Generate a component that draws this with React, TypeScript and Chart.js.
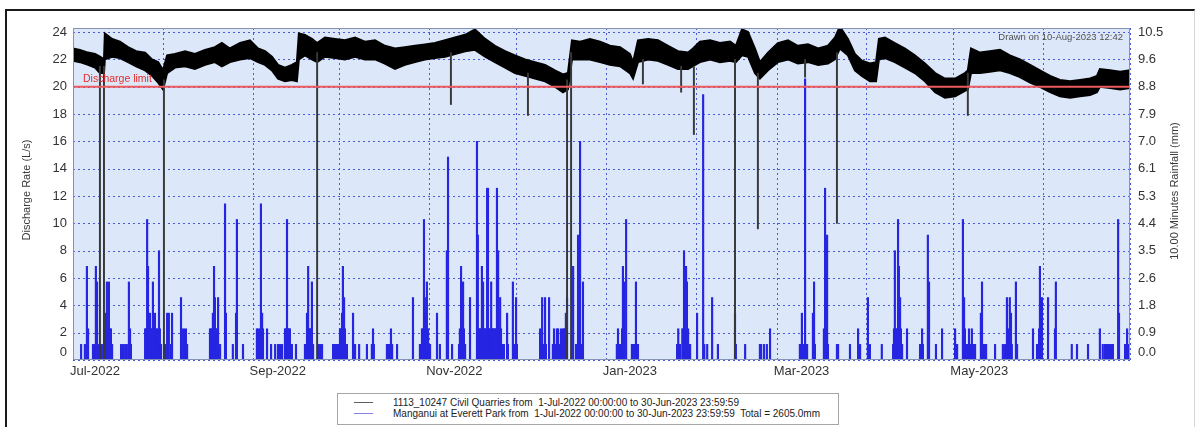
import React, { useEffect, useRef } from "react";
import { Chart, registerables } from "chart.js";

Chart.register(...registerables);

const FONT = '"Liberation Sans", Arial, sans-serif';

// ---- axes ----
const monthTickDays = [0, 31, 62, 92, 123, 153, 184, 215, 243, 274, 304, 335, 365];
const monthTickLabels = ["Jul-2022", "", "Sep-2022", "", "Nov-2022", "", "Jan-2023", "", "Mar-2023", "", "May-2023", "", ""];
const leftTickValues = [0, 2, 4, 6, 8, 10, 12, 14, 16, 18, 20, 22, 24];
const leftTickLabels = ["0", "2", "4", "6", "8", "10", "12", "14", "16", "18", "20", "22", "24"];
const rightTickValues = [0, 0.875, 1.75, 2.625, 3.5, 4.375, 5.25, 6.125, 7, 7.875, 8.75, 9.625, 10.5];
const rightTickLabels = ["0.0", "0.9", "1.8", "2.6", "3.5", "4.4", "5.3", "6.1", "7.0", "7.9", "8.8", "9.6", "10.5"];
const leftMax = 24.3;
const rightMax = 10.63;
const dischargeLimit = 20;

// ---- discharge envelope [day since 1-Jul-2022, high L/s, low L/s] ----
const dischargeBand2022: [number, number, number][] = [
  [0, 22.8, 21.9], [2.4, 22.7, 21.8], [5.2, 22.5, 21.6], [7.6, 22.4, 21.4], [9.3, 22.2, 21.0],
  [10.7, 22.0, 21.0], [11.0, 23.9, 22.0], [13.5, 23.5, 22.2], [16.2, 23.3, 22.1], [19.0, 22.9, 21.8],
  [21.8, 22.6, 21.5], [24.9, 22.5, 21.2], [27.3, 22.0, 20.8], [29.4, 21.8, 20.3], [31.1, 21.2, 19.8],
  [32.5, 22.3, 21.0], [35.2, 22.4, 21.4], [38.7, 22.6, 21.5], [42.1, 22.4, 21.3], [45.6, 22.7, 21.6],
  [49.0, 22.9, 21.8], [51.4, 23.2, 21.5], [54.2, 22.8, 21.8], [57.7, 23.2, 22.0], [61.1, 23.4, 22.1],
  [63.9, 22.8, 21.8], [66.3, 22.6, 21.6], [68.7, 22.2, 21.2], [70.8, 21.6, 20.6], [73.2, 21.4, 20.4],
  [75.6, 21.6, 20.5], [77.3, 21.8, 20.4], [78.0, 23.9, 22.0], [80.1, 23.8, 22.3], [82.5, 23.5, 22.0],
  [84.3, 23.2, 21.8], [87.0, 23.6, 22.2], [90.5, 23.5, 22.1], [93.9, 23.4, 22.0], [97.4, 23.6, 22.2],
  [100.8, 23.3, 22.0], [104.3, 23.4, 22.0], [107.7, 23.0, 21.7], [111.2, 22.8, 21.3], [114.6, 22.9, 21.6],
  [118.1, 23.0, 21.8], [121.5, 23.1, 22.0], [125.0, 23.2, 22.1], [128.5, 23.4, 22.2], [131.9, 23.6, 22.4],
  [135.4, 23.8, 22.6], [138.8, 24.2, 22.7], [142.3, 23.5, 22.2], [145.7, 23.0, 21.8], [149.2, 22.6, 21.4],
  [152.6, 22.3, 21.0], [156.1, 22.0, 20.8], [159.5, 21.8, 20.6], [163.0, 21.6, 20.4], [166.4, 21.2, 20.0],
  [169.2, 20.9, 19.6], [170.9, 21.0, 19.8], [172.3, 23.4, 22.0], [175.1, 23.3, 22.0], [178.5, 23.5, 22.0],
  [182.0, 23.3, 21.8],
];
const dischargeBand2023: [number, number, number][] = [
  [185.4, 23.0, 21.6], [188.9, 22.9, 21.5], [192.3, 22.4, 21.0], [193.4, 21.8, 20.6], [195.1, 23.4, 21.8],
  [198.6, 23.5, 22.0], [202.0, 23.4, 21.9], [205.5, 23.0, 21.6], [208.9, 22.6, 21.3], [212.4, 22.5, 21.3],
  [214.1, 22.8, 21.5], [216.5, 23.3, 21.8], [220.0, 23.4, 22.0], [223.4, 23.2, 21.8], [226.9, 23.3, 21.9],
  [228.9, 23.0, 21.8], [231.0, 24.2, 22.3], [233.1, 24.0, 22.2], [235.5, 22.8, 21.0], [237.2, 21.8, 20.6],
  [240.0, 22.5, 21.2], [243.4, 23.2, 21.8], [246.9, 23.4, 22.0], [250.3, 23.0, 21.7], [253.8, 23.1, 21.8],
  [257.3, 22.8, 21.6], [260.7, 23.0, 21.7], [263.1, 23.6, 22.0], [264.8, 24.4, 22.8], [267.6, 23.5, 22.3],
  [270.0, 22.4, 21.2], [272.4, 21.9, 20.8], [275.2, 21.7, 20.4], [277.3, 21.8, 20.4], [278.3, 23.5, 22.0],
  [280.4, 23.6, 22.1], [283.8, 23.2, 21.8], [287.3, 22.8, 21.4], [290.7, 22.3, 21.0], [294.2, 21.7, 20.4],
  [297.7, 21.0, 19.6], [301.1, 20.6, 19.2], [304.6, 20.6, 19.3], [308.0, 21.0, 19.7], [309.0, 21.2, 19.8],
  [310.1, 22.8, 21.0], [313.2, 22.5, 21.0], [316.6, 22.6, 21.1], [320.1, 22.7, 21.2], [323.5, 22.3, 21.0],
  [327.0, 22.0, 20.7], [330.5, 21.6, 20.3], [333.9, 21.2, 20.0], [337.4, 20.8, 19.6], [340.8, 20.5, 19.3],
  [344.3, 20.4, 19.2], [347.7, 20.5, 19.3], [351.2, 20.6, 19.4], [353.6, 20.8, 19.6], [354.6, 21.3, 20.0],
  [358.1, 21.2, 19.9], [361.6, 21.1, 19.8], [365, 21.2, 19.9],
];
// discharge drop-outs [day, low, high]
const dischargeDropouts: [number, number, number][] = [
  [9.3, 0, 21.5], [10.7, 0, 21.5], [31.4, 0, 20.5], [84.3, 0, 22.5], [130.5, 18.7, 22.5],
  [157.1, 17.9, 21.0], [170.6, 0, 20.5], [172.0, 0, 22.5], [196.8, 20.2, 22.0], [210.0, 19.6, 21.5],
  [214.4, 16.5, 21.5], [228.6, 0, 22.0], [236.5, 9.6, 21.0], [252.8, 20.7, 22.0], [263.8, 10.0, 22.5],
  [309.0, 17.9, 21.0],
];

// ---- 10-minute rainfall [day, mm] ----
const rainJul: [number, number][] = [
  [2.8, 0.5], [4.1, 0.5], [4.8, 3.0], [5.2, 1.0], [6.9, 0.5], [7.6, 0.5], [7.9, 3.0], [8.3, 2.5], [9.0, 0.5],
  [9.7, 0.5], [10.4, 0.5], [11.0, 1.0], [11.4, 1.5], [11.7, 2.5], [12.1, 1.0], [12.4, 2.5], [12.8, 1.0],
  [13.1, 1.0], [13.5, 0.5], [16.6, 0.5], [17.3, 0.5], [18.0, 0.5], [18.6, 0.5], [19.3, 2.5], [19.7, 1.0],
  [20.0, 0.5], [24.9, 1.0], [25.2, 1.0], [25.6, 4.5], [25.9, 3.0], [26.2, 1.0], [26.6, 1.5], [26.9, 1.0],
  [27.3, 1.0], [27.6, 2.5], [28.0, 1.0], [28.3, 1.5], [28.7, 1.0], [29.0, 1.0], [29.4, 0.5], [29.7, 3.5],
  [30.0, 1.0], [30.4, 0.5],
];
const rainAug: [number, number][] = [
  [31.8, 0.5], [32.5, 1.5], [33.1, 1.5], [33.8, 0.5], [34.2, 1.5], [37.3, 2.0], [37.6, 1.0], [38.3, 1.0],
  [39.0, 1.0], [39.4, 0.5], [47.3, 1.0], [47.7, 1.0], [48.0, 1.0], [48.3, 1.5], [48.7, 3.0], [49.0, 2.0],
  [49.4, 1.0], [49.7, 1.0], [50.1, 2.0], [50.8, 0.5], [52.5, 5.0], [52.8, 1.5], [55.2, 0.5], [56.3, 1.5],
  [56.6, 4.5], [58.7, 0.5],
];
const rainSep: [number, number][] = [
  [63.5, 1.0], [63.9, 1.0], [64.2, 0.5], [64.6, 1.0], [64.9, 5.0], [65.3, 1.5], [65.6, 1.0], [67.0, 1.0],
  [68.4, 0.5], [69.8, 0.5], [70.8, 0.5], [71.5, 0.5], [72.2, 0.5], [73.2, 1.0], [73.5, 1.0], [73.9, 4.5],
  [74.2, 1.0], [74.6, 1.0], [74.9, 1.0], [75.3, 0.5], [75.6, 0.5], [77.0, 0.5], [80.1, 0.5], [80.5, 0.5],
  [80.8, 1.5], [81.2, 3.0], [81.5, 1.0], [81.8, 1.0], [82.2, 1.0], [82.5, 2.5], [82.9, 0.5], [84.6, 0.5],
  [85.3, 0.5], [86.0, 0.5], [89.8, 0.5], [90.1, 0.5], [90.5, 0.5], [90.8, 0.5], [91.2, 0.5], [91.5, 0.5],
  [91.9, 0.5],
];
const rainOct: [number, number][] = [
  [92.2, 1.0], [92.5, 1.0], [92.9, 1.5], [93.2, 3.0], [93.6, 2.0], [93.9, 1.0], [94.3, 0.5], [94.6, 0.5],
  [96.7, 1.5], [97.0, 0.5], [97.4, 0.5], [98.8, 0.5], [101.5, 0.5], [103.2, 0.5], [103.6, 1.0], [103.9, 0.5],
  [108.4, 0.5], [108.8, 0.5], [109.1, 0.5], [109.5, 0.5], [109.8, 1.0], [110.2, 0.5], [111.9, 0.5],
  [117.4, 2.0], [119.8, 0.5], [120.2, 0.5], [120.5, 1.0], [120.9, 1.0], [121.2, 4.5], [121.5, 2.0],
  [121.9, 1.5], [122.2, 2.5], [122.6, 1.0], [122.9, 0.5],
];
const rainNov: [number, number][] = [
  [123.3, 0.5], [125.7, 1.5], [126.7, 0.5], [129.1, 3.5], [129.5, 6.5], [130.9, 0.5], [133.3, 0.5],
  [133.6, 1.0], [134.0, 3.0], [134.3, 1.0], [134.7, 2.5], [135.0, 1.0], [135.4, 0.5], [137.1, 2.0],
  [139.5, 7.0], [139.8, 4.0], [140.2, 1.0], [140.5, 1.0], [140.9, 1.0], [141.2, 3.0], [141.6, 2.5],
  [141.9, 1.0], [142.3, 1.0], [142.6, 1.0], [143.0, 5.5], [143.3, 5.5], [143.7, 1.0], [144.0, 1.0],
  [144.4, 2.5], [144.7, 1.0], [145.0, 1.0], [145.4, 1.0], [145.7, 1.0], [146.1, 1.0], [146.4, 5.5],
  [146.8, 3.5], [147.1, 1.0], [147.5, 2.0], [147.8, 1.0], [148.1, 0.5], [148.5, 0.5], [148.8, 0.5],
  [149.9, 1.5], [150.2, 0.5], [151.9, 2.5], [152.3, 0.5],
];
const rainDec: [number, number][] = [
  [153.0, 2.0], [153.3, 0.5], [161.3, 1.0], [161.6, 0.5], [162.0, 2.0], [162.3, 0.5], [163.0, 2.0],
  [163.3, 0.5], [164.4, 2.0], [165.7, 0.5], [166.1, 1.0], [166.4, 0.5], [166.8, 0.5], [167.1, 1.0],
  [167.5, 1.0], [167.8, 0.5], [168.2, 0.5], [168.5, 1.0], [168.9, 0.5], [169.2, 1.0], [169.6, 1.0],
  [169.9, 1.0], [170.2, 1.5], [170.6, 2.0], [172.7, 3.0], [173.7, 0.5], [174.4, 4.0], [175.1, 7.0],
  [175.4, 0.5], [176.1, 2.5],
];
const rainJan: [number, number][] = [
  [187.8, 0.5], [188.2, 1.0], [188.6, 0.5], [188.9, 0.5], [189.2, 0.5], [189.6, 1.0], [189.9, 3.0],
  [190.3, 2.5], [191.0, 4.5], [193.0, 0.5], [193.4, 0.5], [193.7, 0.5], [194.1, 0.5], [194.4, 2.5],
  [194.8, 0.5], [195.1, 0.5], [208.6, 0.5], [209.0, 1.0], [209.3, 0.5], [209.6, 0.5], [210.4, 1.0],
  [210.7, 1.0], [211.0, 3.5], [211.4, 1.0], [211.7, 3.0], [212.0, 2.5], [212.4, 1.0], [212.7, 0.5],
  [213.1, 0.5],
];
const rainFeb: [number, number][] = [
  [215.5, 1.5], [217.6, 8.5], [218.0, 0.5], [219.0, 0.5], [220.7, 2.0], [222.7, 0.5], [228.6, 1.5],
  [228.9, 0.5], [232.1, 0.5], [237.2, 0.5], [237.6, 0.5], [238.6, 0.5], [239.6, 0.5], [240.7, 1.0],
];
const rainMar: [number, number][] = [
  [251.0, 0.5], [251.4, 0.5], [251.7, 1.5], [252.1, 0.5], [252.8, 9.0], [253.1, 0.5], [253.5, 0.5],
  [255.5, 1.5], [255.9, 2.5], [256.2, 0.5], [259.3, 1.0], [259.7, 5.5], [260.4, 4.0], [260.7, 0.5],
  [263.8, 0.5], [264.2, 0.5], [268.3, 0.5], [271.1, 1.0], [271.8, 0.5],
];
const rainApr: [number, number][] = [
  [274.5, 2.0], [275.2, 0.5], [279.3, 0.5], [283.2, 0.5], [283.5, 1.0], [283.8, 3.5], [284.2, 1.0],
  [284.5, 1.0], [284.9, 4.5], [285.2, 3.0], [285.6, 2.0], [285.9, 1.0], [286.3, 0.5], [288.0, 1.0],
  [292.5, 0.5], [292.8, 0.5], [293.2, 1.0], [293.5, 0.5], [295.2, 4.0], [295.6, 2.5], [298.0, 0.5],
  [300.1, 1.0],
];
const rainMay: [number, number][] = [
  [304.6, 1.0], [304.9, 0.5], [305.3, 0.5], [307.3, 4.5], [307.7, 2.0], [308.0, 1.0], [308.4, 0.5],
  [308.7, 0.5], [309.0, 0.5], [309.4, 1.0], [309.7, 0.5], [310.1, 0.5], [310.4, 1.0], [310.8, 0.5],
  [311.1, 0.5], [311.5, 0.5], [313.5, 1.5], [313.9, 2.5], [314.2, 0.5], [314.6, 0.5], [314.9, 0.5],
  [315.3, 0.5], [318.4, 0.5], [321.1, 0.5], [321.8, 0.5], [322.5, 2.0], [322.9, 1.0], [323.5, 2.0],
  [323.9, 1.5], [324.2, 0.5], [325.6, 2.5], [326.0, 0.5], [331.5, 1.0], [332.9, 0.5], [333.2, 0.5],
  [333.6, 1.0], [333.9, 3.0], [334.3, 0.5], [334.6, 2.0],
];
const rainJun: [number, number][] = [
  [336.7, 2.0], [339.1, 1.0], [339.4, 2.5], [344.9, 0.5], [346.7, 0.5], [350.5, 0.5], [354.6, 1.0],
  [355.6, 0.5], [356.3, 0.5], [356.7, 0.5], [357.0, 0.5], [357.4, 0.5], [358.1, 0.5], [358.8, 0.5],
  [359.1, 0.5], [360.9, 4.5], [361.2, 1.5], [363.3, 0.5], [363.6, 0.5], [364.0, 1.0], [364.3, 0.5],
  [364.7, 0.5],
];

const legendLines = [
  "1113_10247 Civil Quarries from  1-Jul-2022 00:00:00 to 30-Jun-2023 23:59:59",
  "Manganui at Everett Park from  1-Jul-2022 00:00:00 to 30-Jun-2023 23:59:59  Total = 2605.0mm",
];
const legendColors = ["#5e5e5e", "#8282e4"];

const decorPlugin = {
  id: "decor",
  beforeDatasetsDraw(chart: any) {
    const { ctx, chartArea: a, scales } = chart;
    ctx.save();
    ctx.fillStyle = "#dce8fa";
    ctx.fillRect(a.left, a.top, a.right - a.left, a.bottom - a.top);
    ctx.strokeStyle = "#4b5ad6";
    ctx.lineWidth = 1;
    ctx.setLineDash([2, 3]);
    for (const v of leftTickValues) {
      const y = Math.round(scales.y.getPixelForValue(v)) + 0.5;
      ctx.beginPath();
      ctx.moveTo(a.left, y);
      ctx.lineTo(a.right, y);
      ctx.stroke();
    }
    for (const d of monthTickDays) {
      const x = Math.round(scales.x.getPixelForValue(d)) + 0.5;
      ctx.beginPath();
      ctx.moveTo(x, a.top);
      ctx.lineTo(x, a.bottom);
      ctx.stroke();
    }
    ctx.restore();
  },
  afterDatasetsDraw(chart: any) {
    const { ctx, chartArea: a, scales } = chart;
    ctx.save();
    // discharge limit
    const yl = scales.y.getPixelForValue(dischargeLimit);
    ctx.strokeStyle = "#ee5a5e";
    ctx.lineWidth = 2;
    ctx.beginPath();
    ctx.moveTo(a.left, yl);
    ctx.lineTo(a.right, yl);
    ctx.stroke();
    ctx.fillStyle = "#e42a2a";
    ctx.font = `10.5px ${FONT}`;
    ctx.textAlign = "left";
    ctx.textBaseline = "alphabetic";
    ctx.fillText("Discharge limit", a.left + 10, yl - 5);
    // drawn on
    ctx.fillStyle = "#505050";
    ctx.font = `9.5px ${FONT}`;
    ctx.textAlign = "right";
    ctx.textBaseline = "middle";
    ctx.fillText("Drawn on 10-Aug-2023 12:42", a.right - 7, a.top + 9);
    // plot border
    ctx.strokeStyle = "#8492b4";
    ctx.lineWidth = 1;
    ctx.strokeRect(a.left + 0.5, a.top + 0.5, a.right - a.left - 1, a.bottom - a.top - 1);
    // y tick labels
    ctx.fillStyle = "#333";
    ctx.font = `13px ${FONT}`;
    ctx.textBaseline = "middle";
    ctx.textAlign = "right";
    leftTickValues.forEach((v, i) => {
      let y = scales.y.getPixelForValue(v);
      if (v === 0) y -= 8;
      ctx.fillText(leftTickLabels[i], a.left - 6, y);
    });
    ctx.textAlign = "left";
    rightTickValues.forEach((v, i) => {
      let y = scales.y1.getPixelForValue(v);
      if (v === 0) y -= 8;
      ctx.fillText(rightTickLabels[i], a.right + 8, y);
    });
    // axis titles
    ctx.font = `11px ${FONT}`;
    ctx.fillStyle = "#3a3a3a";
    ctx.textAlign = "center";
    ctx.save();
    ctx.translate(27, 190);
    ctx.rotate(-Math.PI / 2);
    ctx.fillText("Discharge Rate (L/s)", 0, 0);
    ctx.restore();
    ctx.save();
    ctx.translate(1175, 191);
    ctx.rotate(-Math.PI / 2);
    ctx.fillText("10.00 Minutes Rainfall (mm)", 0, 0);
    ctx.restore();
    ctx.restore();
  },
};

export default function App() {
  const canvasRef = useRef<HTMLCanvasElement | null>(null);

  useEffect(() => {
    if (!canvasRef.current) return;
    const band = [...dischargeBand2022, ...dischargeBand2023];
    const rain = [
      ...rainJul, ...rainAug, ...rainSep, ...rainOct, ...rainNov, ...rainDec,
      ...rainJan, ...rainFeb, ...rainMar, ...rainApr, ...rainMay, ...rainJun,
    ];
    const chart = new Chart(canvasRef.current, {
      type: "bar",
      data: {
        datasets: [
          {
            type: "line",
            label: "Discharge high",
            data: band.map(([d, h]) => ({ x: d, y: h })),
            borderColor: "#000",
            borderWidth: 2,
            pointRadius: 0,
            fill: false,
            yAxisID: "y",
            order: 2,
          } as any,
          {
            type: "line",
            label: "Discharge low",
            data: band.map(([d, , l]) => ({ x: d, y: l })),
            borderColor: "#000",
            backgroundColor: "#000",
            borderWidth: 2,
            pointRadius: 0,
            fill: "-1",
            yAxisID: "y",
            order: 2,
          } as any,
          {
            type: "bar",
            label: "Dropouts",
            data: dischargeDropouts.map(([d, lo, hi]) => ({ x: d, y: [lo, hi] })),
            backgroundColor: "#383838",
            barThickness: 1.3,
            grouped: false,
            yAxisID: "y",
            order: 1,
          } as any,
          {
            type: "bar",
            label: "Rainfall",
            data: rain.map(([d, mm]) => ({ x: d, y: mm })),
            backgroundColor: "#2525e2",
            barThickness: 1.5,
            grouped: false,
            yAxisID: "y1",
            order: 3,
          } as any,
        ],
      },
      options: {
        responsive: false,
        animation: false,
        devicePixelRatio: 1,
        layout: { padding: { left: 0, right: 0, top: 28, bottom: 0 } },
        plugins: { legend: { display: false }, tooltip: { enabled: false } },
        scales: {
          x: {
            type: "linear",
            min: 0,
            max: 365,
            offset: false,
            grid: { display: false, drawTicks: false },
            border: { display: false },
            afterBuildTicks: (s: any) => {
              s.ticks = monthTickDays.map((v) => ({ value: v }));
            },
            afterFit: (s: any) => {
              s.height = 67;
            },
            ticks: {
              autoSkip: false,
              maxRotation: 0,
              minRotation: 0,
              align: "start",
              labelOffset: -3,
              padding: 4,
              color: "#333",
              font: { family: FONT, size: 13 },
              callback: (_v: any, i: number) => monthTickLabels[i] ?? "",
            },
          },
          y: {
            type: "linear",
            position: "left",
            min: 0,
            max: leftMax,
            grid: { display: false, drawTicks: false },
            border: { display: false },
            ticks: { display: false },
            afterFit: (s: any) => {
              s.width = 73;
            },
          },
          y1: {
            type: "linear",
            position: "right",
            min: 0,
            max: rightMax,
            grid: { display: false, drawTicks: false },
            border: { display: false },
            ticks: { display: false },
            afterFit: (s: any) => {
              s.width = 65;
            },
          },
        } as any,
      },
      plugins: [decorPlugin],
    });
    return () => chart.destroy();
  }, []);

  return (
    <div style={{ position: "absolute", left: 0, top: 0, width: 1195, height: 427, background: "#fff", overflow: "hidden" }}>
      <div
        style={{
          position: "absolute",
          left: 5,
          top: 9,
          width: 1187,
          height: 430,
          borderTop: "2px solid #1a1a1a",
          borderLeft: "2px solid #1a1a1a",
          borderRight: "1px solid #d6d6d6",
        }}
      />
      <canvas ref={canvasRef} width={1195} height={427} style={{ position: "absolute", left: 0, top: 0 }} />
      <div
        style={{
          position: "absolute",
          left: 337,
          top: 393,
          width: 502,
          height: 32,
          boxSizing: "border-box",
          border: "1px solid #a6a6a6",
          background: "#fff",
          fontFamily: FONT,
          fontSize: 10,
          color: "#222",
        }}
      >
        {legendLines.map((t, i) => (
          <div key={i} style={{ position: "absolute", left: 0, top: 3 + i * 11, height: 11, width: 500 }}>
            <div style={{ position: "absolute", left: 16, top: 5, width: 19, height: 1, background: legendColors[i] }} />
            <div style={{ position: "absolute", left: 55, top: 0, lineHeight: "11px", whiteSpace: "pre" }}>{t}</div>
          </div>
        ))}
      </div>
    </div>
  );
}
